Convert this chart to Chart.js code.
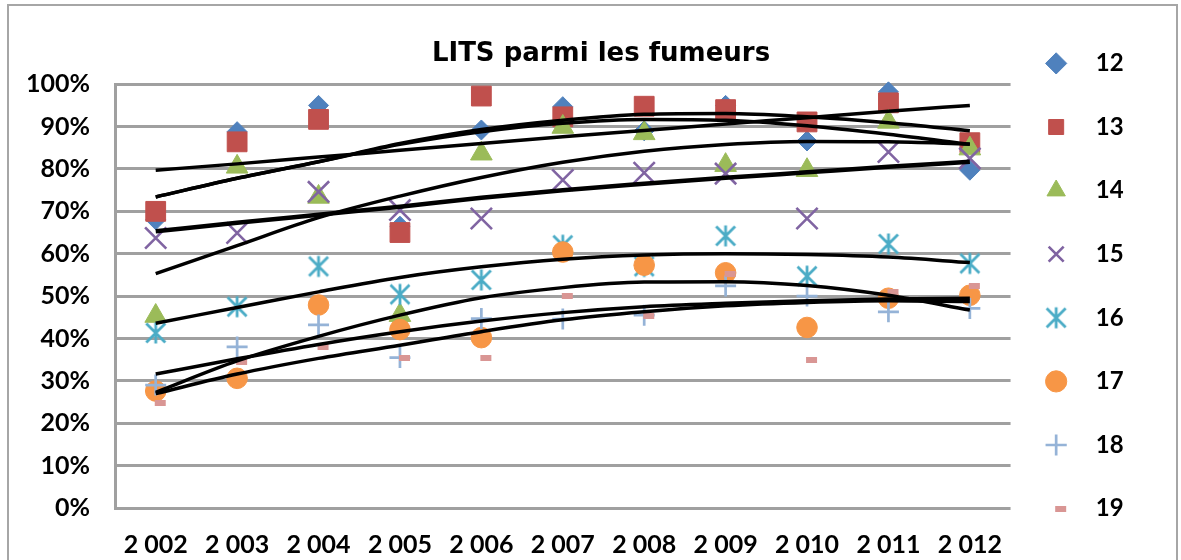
<!DOCTYPE html>
<html>
<head>
<meta charset="utf-8">
<script src="https://cdn.jsdelivr.net/npm/chart.js@4/dist/chart.umd.min.js"></script>
<style>
  html, body { margin: 0; padding: 0; background: #ffffff; }
  #wrap { width: 1181px; height: 560px; position: relative; }
</style>
</head>
<body>
<div id="wrap"><canvas id="c" width="1181" height="560"></canvas></div>
<script>
// ---------- data ----------
const years = ['2 002', '2 003', '2 004', '2 005', '2 006', '2 007', '2 008', '2 009', '2 010', '2 011', '2 012'];
const yTickLabels = ['0%', '10%', '20%', '30%', '40%', '50%', '60%', '70%', '80%', '90%', '100%'];
const seriesNames = ['12', '13', '14', '15', '16', '17', '18', '19'];

const age12 = [68.0, 88.8, 95.0, 66.5, 89.2, 94.7, 89.0, 95.0, 86.6, 98.2, 79.7];
const age13 = [70.0, 86.4, 91.7, 65.0, 97.2, 92.3, 94.8, 94.0, 91.1, 95.6, 86.2];
const age14 = [45.3, 80.5, 73.4, 45.5, 83.6, 89.9, 88.4, 80.9, 79.7, 91.1, 84.8];
const age15 = [63.7, 64.9, 74.6, 70.3, 68.3, 77.4, 79.1, 78.9, 68.3, 84.0, 82.5];
const age16 = [41.3, 47.5, 57.0, 50.4, 53.8, 62.0, 57.0, 64.2, 54.7, 62.3, 57.7];
const age17 = [27.6, 30.6, 47.9, 42.1, 40.2, 60.4, 57.3, 55.5, 42.6, 49.5, 50.2];
const age18 = [29.0, 38.0, 43.2, 35.5, 44.7, 44.6, 45.5, 52.4, 50.0, 46.3, 47.1];
const age19 = [24.7, 34.5, 38.0, 35.5, 35.5, 50.1, 45.3, 55.2, 34.9, 50.9, 52.4];

// trend curves at each year
const trendA = [79.7, 81.2, 82.8, 84.4, 86.0, 87.6, 89.1, 90.6, 92.1, 93.6, 95.0];
const trendB1 = [73.4, 77.8, 81.7, 86.0, 89.3, 91.5, 92.9, 93.1, 92.3, 90.9, 89.0];
const trendB2 = [73.4, 77.8, 81.7, 85.8, 88.8, 90.8, 91.7, 91.5, 90.2, 88.2, 85.8];
const trendC = [65.3, 67.3, 69.2, 71.1, 73.2, 75.0, 76.5, 77.9, 79.2, 80.5, 81.7];
const trendD = [55.3, 61.9, 68.5, 73.6, 78.0, 81.6, 84.2, 85.8, 86.5, 86.4, 85.9];
const trendE = [43.6, 47.3, 51.0, 54.4, 56.9, 58.7, 59.7, 60.0, 59.8, 59.2, 57.9];
const trendF = [31.6, 35.2, 38.6, 41.6, 44.1, 46.1, 47.5, 48.3, 48.9, 49.3, 49.5];
const trendG = [27.3, 34.7, 40.5, 45.5, 49.6, 52.0, 53.3, 53.4, 52.5, 50.2, 46.7];
const trendH = [27.0, 31.6, 35.3, 38.4, 41.6, 44.4, 46.3, 47.7, 48.5, 48.9, 48.7];

const seriesValues = [age12, age13, age14, age15, age16, age17, age18, age19];
const trendValues = [trendA, trendB1, trendB2, trendC, trendD, trendE, trendF, trendG, trendH];

// ---------- styles ----------
function asteriskMarker(color) {
  const c = document.createElement('canvas');
  c.width = 24; c.height = 24;
  const g = c.getContext('2d');
  g.strokeStyle = color; g.lineWidth = 2.8;
  g.beginPath();
  g.moveTo(2.5, 2.5); g.lineTo(21.5, 21.5);
  g.moveTo(21.5, 2.5); g.lineTo(2.5, 21.5);
  g.moveTo(12, 1.5); g.lineTo(12, 22.5);
  g.stroke();
  return c;
}
function dashMarker(color) {
  const c = document.createElement('canvas');
  c.width = 24; c.height = 6;
  const g = c.getContext('2d');
  g.fillStyle = color;
  g.fillRect(11, 0, 11, 6);
  return c;
}

const markerStyles = [
  { style: 'rectRot', radius: 10, color: '#4F81BD', width: 1 },
  { style: 'rect', radius: 14, color: '#C0504D', width: 1 },
  { style: 'triangle', radius: 12.5, color: '#9BBB59', width: 1 },
  { style: 'crossRot', radius: 15, color: '#8064A2', width: 2.6 },
  { style: asteriskMarker('#4BACC6'), radius: 10, color: '#4BACC6', width: 1 },
  { style: 'circle', radius: 10.3, color: '#F79646', width: 1 },
  { style: 'cross', radius: 10.5, color: '#95B3D7', width: 2.7 },
  { style: dashMarker('#D99694'), radius: 6, color: '#D99694', width: 1 }
];
const trendWidths = [3.5, 3.5, 3.5, 4.5, 3.5, 3.5, 3.5, 3.5, 3.5];

const datasets = [];
seriesValues.forEach((vals, i) => {
  const m = markerStyles[i];
  datasets.push({
    label: seriesNames[i],
    data: vals,
    showLine: false,
    pointStyle: m.style,
    pointRadius: m.radius,
    pointBackgroundColor: m.color,
    pointBorderColor: m.color,
    pointBorderWidth: m.width,
    backgroundColor: m.color,
    borderColor: m.color,
    order: 20 - i,
    clip: false
  });
});
trendValues.forEach((vals, j) => {
  datasets.push({
    label: 'trend' + j,
    data: vals,
    borderColor: '#000000',
    borderWidth: trendWidths[j],
    pointRadius: 0,
    fill: false,
    cubicInterpolationMode: 'monotone',
    order: 0,
    clip: false
  });
});

const labelFont = { family: 'Lato', size: 25, weight: 'bold' };

const placeBoxes = {
  id: 'placeBoxes',
  afterLayout(chart) {
    const lg = chart.legend;
    const ca = chart.chartArea;
    if (lg) {
      lg.left = ca.right - 6;
      lg.right = ca.right + 113;
      lg.top += 6;
      lg.bottom += 6;
    }
    const t = chart.titleBlock;
    if (t) {
      const dx = 601 - (t.left + t.right) / 2;
      t.left += dx; t.right += dx;
    }
  }
};

const outerFrame = {
  id: 'outerFrame',
  beforeDraw(chart) {
    const ctx = chart.ctx;
    ctx.save();
    ctx.strokeStyle = '#a6a6a6';
    ctx.lineWidth = 2;
    ctx.strokeRect(8, 5, 1169, 600);
    ctx.restore();
  }
};

new Chart(document.getElementById('c'), {
  type: 'line',
  data: { labels: years, datasets: datasets },
  plugins: [placeBoxes, outerFrame],
  options: {
    responsive: false,
    animation: false,
    devicePixelRatio: 1,
    events: [],
    layout: { padding: { left: 28, right: 57, top: 0, bottom: 0 } },
    plugins: {
      tooltip: { enabled: false },
      title: {
        display: true,
        text: 'LITS parmi les fumeurs',
        color: '#000000',
        font: { family: 'DejaVu Sans', size: 26, weight: 'bold' },
        padding: { top: 39, bottom: 14 }
      },
      legend: {
        display: true,
        position: 'right',
        align: 'center',
        labels: {
          usePointStyle: true,
          boxHeight: 15,
          padding: 39.6,
          color: '#000000',
          font: { family: 'Lato', size: 24, weight: 'bold' },
          textAlign: 'right',
          filter: (item) => item.datasetIndex < seriesNames.length,
          sort: (a, b) => a.datasetIndex - b.datasetIndex
        }
      }
    },
    scales: {
      x: {
        offset: true,
        grid: { display: false, drawTicks: false },
        border: { display: false },
        ticks: { color: '#000000', font: labelFont, padding: 22, maxRotation: 0, autoSkip: false },
        afterFit: (s) => { s.height = 52; }
      },
      y: {
        min: 0,
        max: 100,
        ticks: {
          stepSize: 10,
          color: '#000000',
          font: labelFont,
          padding: 25,
          callback: (v, i) => yTickLabels[i]
        },
        grid: { color: '#a0a0a0', lineWidth: 3, drawTicks: false },
        border: { display: true, color: '#a0a0a0', width: 3 },
        afterFit: (s) => { s.width = 87; }
      }
    }
  }
});
</script>
</body>
</html>
